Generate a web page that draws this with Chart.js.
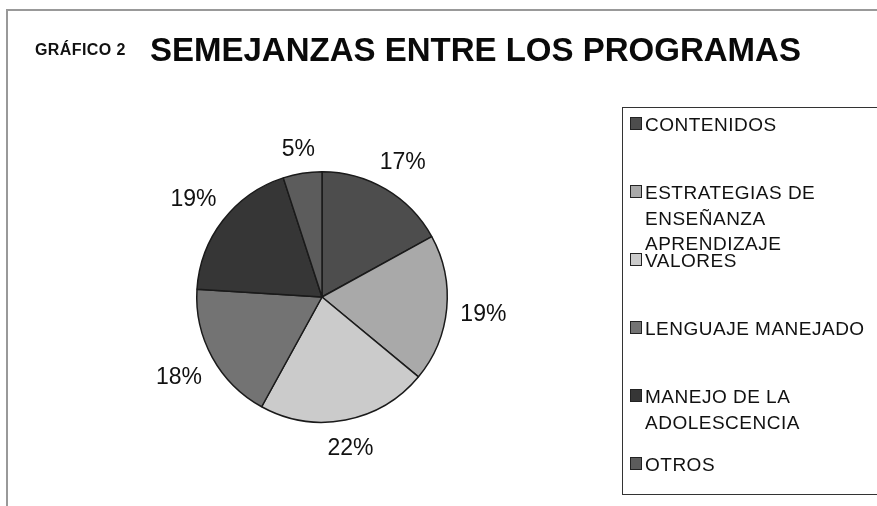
<!DOCTYPE html>
<html>
<head>
<meta charset="utf-8">
<script src="https://cdn.jsdelivr.net/npm/chart.js@4.4.0/dist/chart.umd.min.js"></script>
<style>
  html, body { margin: 0; padding: 0; background: #fff; overflow: hidden; }
  body { width: 877px; height: 506px; position: relative; font-family: "Liberation Sans", Arial, sans-serif; }
  #frame { position: absolute; left: 6px; top: 9px; width: 880px; height: 510px; border-left: 2px solid #999; border-top: 2px solid #999; }
  #chartBox { position: absolute; left: 0; top: 0; width: 877px; height: 506px; }
  #sub { position: absolute; left: 35px; top: 41px; font-weight: bold; font-size: 16px; letter-spacing: 0.4px; color: #111; }
  #title { position: absolute; left: 150px; top: 31px; font-weight: bold; font-size: 33px; color: #0a0a0a; white-space: nowrap; }
  #legend { position: absolute; left: 622px; top: 107px; width: 270px; height: 386px; border: 1.5px solid #333; }
  .item { position: absolute; left: 0; }
  .mark { position: absolute; left: 7px; top: 5px; width: 10px; height: 11px; border: 0.5px solid #222; }
  .txt { position: absolute; left: 22px; top: 0; font-size: 19px; line-height: 25.5px; letter-spacing: 0.5px; color: #111; white-space: nowrap; }
</style>
</head>
<body>
<div id="frame"></div>
<div id="chartBox"><canvas id="myChart"></canvas></div>
<div id="sub">GRÁFICO 2</div>
<div id="title">SEMEJANZAS ENTRE LOS PROGRAMAS</div>
<div id="legend"></div>
<script>
const categories = [
  'CONTENIDOS',
  ['ESTRATEGIAS DE', 'ENSEÑANZA', 'APRENDIZAJE'],
  'VALORES',
  'LENGUAJE MANEJADO',
  ['MANEJO DE LA', 'ADOLESCENCIA'],
  'OTROS'
];
const percents = [17, 19, 22, 18, 19, 5];
const sliceColors = ['#4d4d4d', '#a9a9a9', '#cbcbcb', '#737373', '#363636', '#5c5c5c'];

// percent labels outside the pie
const outsideLabels = {
  id: 'outsideLabels',
  afterDatasetsDraw(chart) {
    const ctx = chart.ctx;
    const meta = chart.getDatasetMeta(0);
    ctx.save();
    ctx.font = '23px "Liberation Sans", Arial, sans-serif';
    ctx.fillStyle = '#111';
    ctx.textAlign = 'center';
    ctx.textBaseline = 'middle';
    meta.data.forEach(function (arc, i) {
      const mid = (arc.startAngle + arc.endAngle) / 2;
      const txt = percents[i] + '%';
      const w = ctx.measureText(txt).width;
      const h = 20;
      const cos = Math.cos(mid), sin = Math.sin(mid);
      const r = arc.outerRadius + 13 + Math.abs(cos) * w / 2 + Math.abs(sin) * h / 2;
      ctx.fillText(txt, arc.x + r * cos, arc.y + r * sin + 2);
    });
    ctx.restore();
  }
};

var ctx = document.getElementById('myChart').getContext('2d');
var myChart = new Chart(ctx, {
  type: 'pie',
  data: {
    labels: categories,
    datasets: [{
      data: percents,
      backgroundColor: sliceColors,
      borderColor: '#1a1a1a',
      borderWidth: 1.5
    }]
  },
  options: {
    responsive: true,
    maintainAspectRatio: false,
    animation: false,
    layout: { padding: { left: 196, right: 429, top: 171, bottom: 83 } },
    plugins: {
      legend: { display: false },
      tooltip: { enabled: false }
    }
  },
  plugins: [outsideLabels]
});

// legend built from the same arrays
const legendEl = document.getElementById('legend');
categories.forEach(function (lab, i) {
  const item = document.createElement('div');
  item.className = 'item';
  item.style.top = (4 + i * 68) + 'px';
  const mark = document.createElement('div');
  mark.className = 'mark';
  mark.style.background = sliceColors[i];
  const txt = document.createElement('div');
  txt.className = 'txt';
  txt.innerHTML = (Array.isArray(lab) ? lab : [lab]).join('<br>');
  item.appendChild(mark);
  item.appendChild(txt);
  legendEl.appendChild(item);
});
</script>
</body>
</html>
